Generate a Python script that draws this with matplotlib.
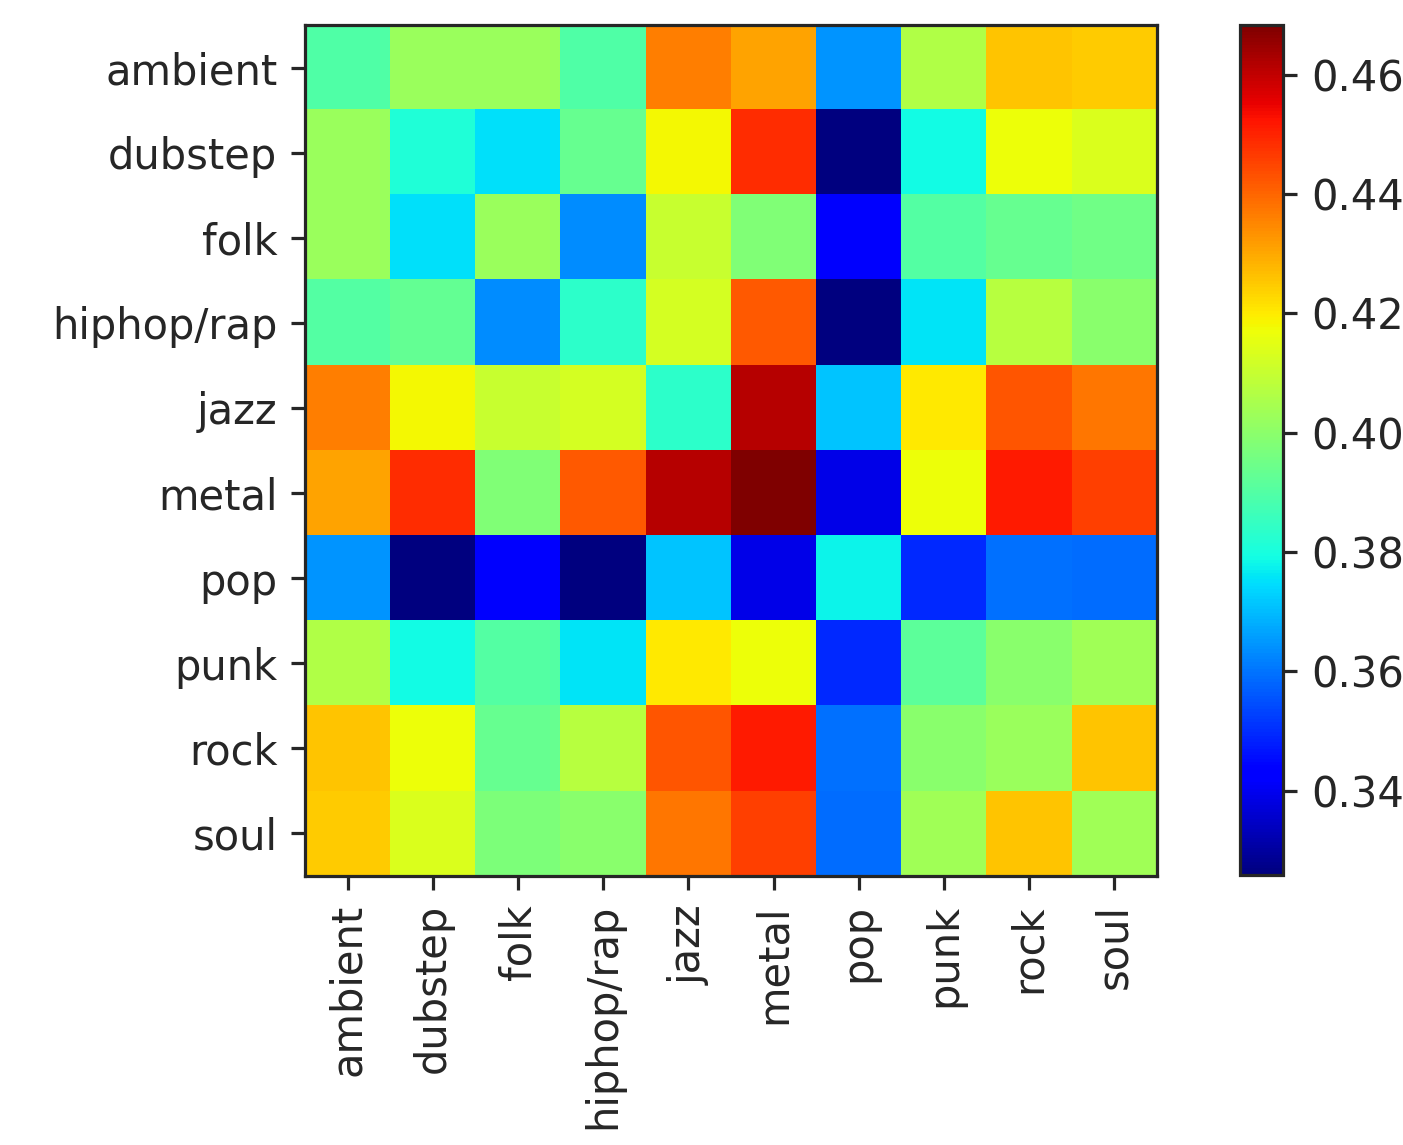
import matplotlib
matplotlib.use("Agg")
import matplotlib.pyplot as plt
import numpy as np

genres = ["ambient", "dubstep", "folk", "hiphop/rap", "jazz",
          "metal", "pop", "punk", "rock", "soul"]

# similarity values, one list per row
ambient = [0.3898, 0.4022, 0.4022, 0.3898, 0.4363, 0.4309, 0.3646, 0.4062, 0.4255, 0.4247]
dubstep = [0.4022, 0.3815, 0.3749, 0.3934, 0.4180, 0.4485, 0.3259, 0.3789, 0.4168, 0.4133]
folk = [0.4022, 0.3749, 0.4022, 0.3632, 0.4103, 0.3978, 0.3416, 0.3900, 0.3934, 0.3951]
hiphop = [0.3900, 0.3932, 0.3632, 0.3834, 0.4123, 0.4421, 0.3259, 0.3757, 0.4075, 0.3995]
jazz = [0.4363, 0.4180, 0.4103, 0.4123, 0.3834, 0.4615, 0.3715, 0.4202, 0.4424, 0.4374]
metal = [0.4309, 0.4485, 0.3978, 0.4421, 0.4615, 0.4683, 0.3387, 0.4168, 0.4516, 0.4459]
pop = [0.3646, 0.3259, 0.3416, 0.3259, 0.3715, 0.3387, 0.3779, 0.3494, 0.3598, 0.3588]
punk = [0.4062, 0.3789, 0.3900, 0.3757, 0.4202, 0.4168, 0.3494, 0.3917, 0.3995, 0.4035]
rock = [0.4259, 0.4168, 0.3934, 0.4075, 0.4424, 0.4516, 0.3598, 0.3995, 0.4022, 0.4255]
soul = [0.4247, 0.4133, 0.3971, 0.3995, 0.4374, 0.4459, 0.3588, 0.4035, 0.4255, 0.4035]

matrix = np.array([ambient, dubstep, folk, hiphop, jazz,
                   metal, pop, punk, rock, soul])

plt.rcParams["font.size"] = 10.4
plt.rcParams["text.color"] = "#262626"
plt.rcParams["xtick.labelcolor"] = "#262626"
plt.rcParams["ytick.labelcolor"] = "#262626"
plt.rcParams["axes.edgecolor"] = "#262626"
plt.rcParams["xtick.color"] = "#262626"
plt.rcParams["ytick.color"] = "#262626"

fig = plt.figure(figsize=(1403 / 288, 1145 / 288), dpi=288)
ax = fig.add_axes([0.2174, 0.2349, 0.6073, 0.7433])
im = ax.imshow(matrix, cmap="jet", interpolation="nearest")
ax.set_xticks(range(len(genres)))
ax.set_xticklabels(genres, rotation=90)
ax.set_yticks(range(len(genres)))
ax.set_yticklabels(genres)

cax = fig.add_axes([0.8838, 0.2358, 0.0307, 0.7424])
fig.colorbar(im, cax=cax)

fig.savefig("out.png", dpi=288)
